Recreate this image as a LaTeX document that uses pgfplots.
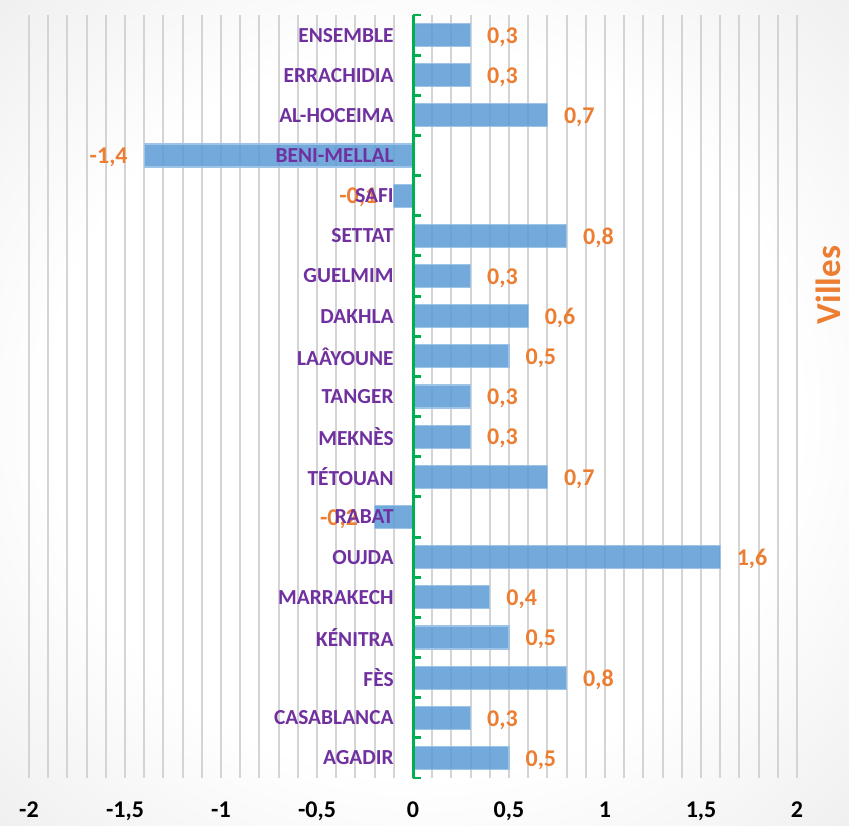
\documentclass[border=0pt]{standalone}
\usepackage{fontspec}
\setmainfont{Carlito}
\usepackage{pgfplots}
\usepackage{pgfplotstable}
\pgfplotsset{compat=1.18}
\definecolor{barblue}{HTML}{5B9BD5}
\definecolor{baredge}{HTML}{9DC3E6}
\definecolor{lblpurple}{HTML}{7030A0}
\definecolor{valorange}{HTML}{ED7D31}
\definecolor{axgreen}{HTML}{00B050}
\pgfdeclareradialshading{bgshade}{\pgfpoint{0bp}{0bp}}{color(0bp)=(white); color(22bp)=(white); color(71bp)=(black!22)}
\pgfplotstableread{
y v name
0 0.5 AGADIR
1 0.3 CASABLANCA
2 0.8 FÈS
3 0.5 KÉNITRA
4 0.4 MARRAKECH
5 1.6 OUJDA
6 -0.2 RABAT
7 0.7 TÉTOUAN
8 0.3 MEKNÈS
9 0.3 TANGER
10 0.5 LAÂYOUNE
11 0.6 DAKHLA
12 0.3 GUELMIM
13 0.8 SETTAT
14 -0.1 SAFI
15 -1.4 BENI-MELLAL
16 0.7 AL-HOCEIMA
17 0.3 ERRACHIDIA
18 0.3 ENSEMBLE
}\datatable
\begin{document}
\begin{tikzpicture}
\path[use as bounding box] (0,0) rectangle (424.5pt,412.5pt);
\shade[shading=bgshade] (0,0) rectangle (424.5pt,412.5pt);
\begin{axis}[
  at={(14.5pt,23.5pt)}, anchor=south west,
  width=384pt, height=381.5pt, scale only axis,
  xmin=-2, xmax=2, ymin=-0.5, ymax=18.5,
  xtick={-2,-1.5,...,2}, minor x tick num=4,
  xmajorgrids, xminorgrids,
  major grid style={draw=black!17, line width=1pt},
  minor grid style={draw=black!17, line width=1pt},
  major tick length=0pt, minor tick length=0pt,
  axis line style={draw=none},
  ytick=\empty,
  xticklabel style={font=\fontsize{12}{13}\selectfont\bfseries, text=black, yshift=-8.5pt},
  /pgf/number format/assume math mode=true,
  /pgf/number format/use comma,
]
\addplot[xbar, bar width=11.5pt, fill=barblue, fill opacity=0.85, draw=baredge, line width=0.6pt,
  nodes near coords,
  nodes near coords style={font=\fontsize{12}{13}\selectfont\bfseries, text=valorange, text opacity=1, inner sep=8pt, yshift=-1pt,
    /pgf/number format/.cd, fixed, precision=1, use comma, assume math mode=true}]
  table[x=v, y=y] {\datatable};
\addplot[draw=none, mark=none, nodes near coords, point meta=explicit symbolic,
  nodes near coords style={anchor=east, inner sep=0pt, xshift=-9.5pt, yshift=0pt, font=\fontsize{10.7}{12}\selectfont\bfseries, text=lblpurple}]
  table[x expr=0, y=y, meta=name] {\datatable};
\draw[axgreen, line width=1.5pt] (axis cs:0,-0.5) -- (axis cs:0,18.5);
\pgfplotsinvokeforeach{-0.5,0.5,...,18.5}{
  \draw[axgreen, line width=1.5pt] (axis cs:0,#1) -- ([xshift=4pt]axis cs:0,#1);
}
\end{axis}
\node[rotate=90, inner sep=0pt, text=valorange, font=\fontsize{17.5}{20}\selectfont\bfseries] at (414pt,270pt) {Villes};
\end{tikzpicture}
\end{document}
